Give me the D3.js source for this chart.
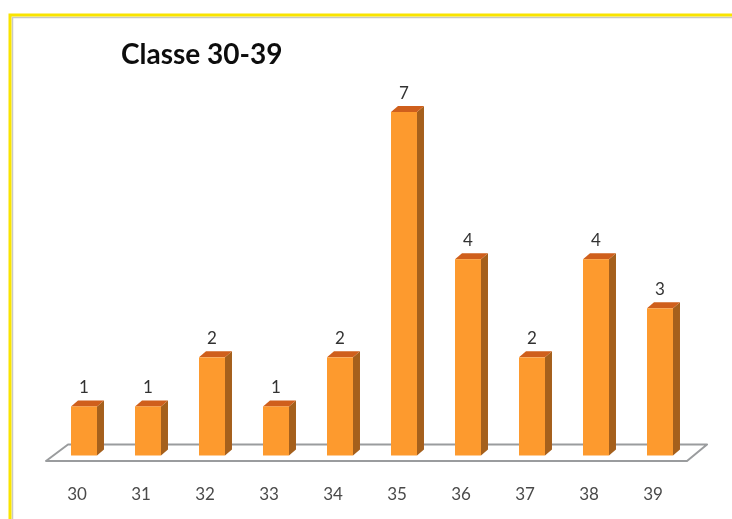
<!DOCTYPE html>
<html><head><meta charset="utf-8">
<script src="https://cdn.jsdelivr.net/npm/d3@7"></script>
<style>html,body{margin:0;padding:0;background:#fff;overflow:hidden}svg{display:block}</style>
</head><body><div id="c"></div>
<script>
const categories = ["30","31","32","33","34","35","36","37","38","39"];
const counts = [1,1,2,1,2,7,4,2,4,3];
const titleText = "Classe 30-39";

const W = 732, H = 519, dx = 7, dy = 6, baseY = 455.5;
const svg = d3.select("#c").append("svg").attr("width", W).attr("height", H);
const defs = svg.append("defs");
defs.append("filter").attr("id","soft").attr("filterUnits","userSpaceOnUse")
  .attr("x",0).attr("y",0).attr("width",W).attr("height",H)
  .append("feGaussianBlur").attr("stdDeviation",0.6);
const g = svg.append("g").attr("filter","url(#soft)");

// frame
g.append("path").attr("d",`M${W+10} 17.5H12.5V${H+10}`).attr("fill","none").attr("stroke","#c9c9c4").attr("stroke-width",1.5);
g.append("path").attr("d",`M${W+10} 15H10V${H+10}`).attr("fill","none").attr("stroke","#f9e400").attr("stroke-width",3);

const x = d3.scaleBand().domain(categories).range([52,692]).paddingInner(0.594).paddingOuter(0.297);
const y = d3.scaleLinear().domain([0,7]).range([baseY, 112]);

// floor
const fl = 46, fr = 687;
g.append("path")
 .attr("d",`M${fl} 461H${fr}L${fr+20} 444.5H${fl+22}Z`)
 .attr("fill","#fff").attr("stroke","#9a9c9e").attr("stroke-width",2).attr("stroke-linejoin","round");

const bars = g.selectAll("g.bar").data(categories.map((c,i)=>({c,v:counts[i]}))).join("g").attr("class","bar");
bars.append("path").attr("fill","#a5601f")
 .attr("d",d=>{const r=x(d.c)+x.bandwidth(),t=y(d.v);return `M${r} ${t}l${dx} ${-dy}V${baseY-dy}l${-dx} ${dy}Z`;});
bars.append("path").attr("fill","#cf5f1a")
 .attr("d",d=>{const l=x(d.c),r=l+x.bandwidth(),t=y(d.v);return `M${l} ${t}l${dx} ${-dy}H${r+dx}l${-dx} ${dy}Z`;});
bars.append("rect").attr("fill","#fd9a2e")
 .attr("x",d=>x(d.c)).attr("width",x.bandwidth())
 .attr("y",d=>y(d.v)).attr("height",d=>baseY-y(d.v));
bars.append("text").text(d=>d.v)
 .attr("x",d=>x(d.c)+x.bandwidth()/2).attr("y",d=>y(d.v)-13)
 .attr("text-anchor","middle").attr("font-family","Lato").attr("font-size",17).attr("fill","#333");

// category axis
const axisX = d3.scaleBand().domain(categories).range([45,685]);
const ax = g.append("g").attr("transform","translate(0,488)")
 .call(d3.axisBottom(axisX).tickSize(0).tickPadding(0));
ax.select(".domain").remove();
ax.selectAll("text").attr("font-family","Lato").attr("font-size",17).attr("fill","#4a4a4a");

g.append("text").text(titleText).attr("x",121).attr("y",64)
 .attr("font-family","Lato").attr("font-weight",700).attr("font-size",28).attr("fill","#111");
</script></body></html>
